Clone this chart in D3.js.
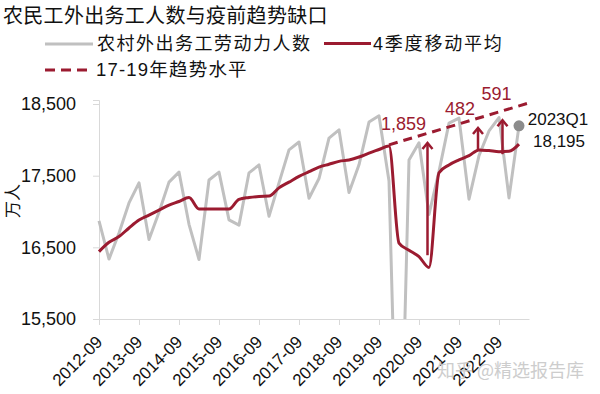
<!DOCTYPE html>
<html>
<head>
<meta charset="utf-8">
<script src="https://cdn.jsdelivr.net/npm/d3@7"></script>
<style>
  body { margin: 0; background: #fff; }
  svg { display: block; font-family: "Liberation Sans", "Noto Sans CJK SC", sans-serif; }
</style>
</head>
<body>
<main></main>
<script>
// quarterly data, 2012Q3 .. 2023Q1
const quarters = ["2012Q3","2012Q4","2013Q1","2013Q2","2013Q3","2013Q4","2014Q1","2014Q2","2014Q3","2014Q4",
  "2015Q1","2015Q2","2015Q3","2015Q4","2016Q1","2016Q2","2016Q3","2016Q4","2017Q1","2017Q2","2017Q3","2017Q4",
  "2018Q1","2018Q2","2018Q3","2018Q4","2019Q1","2019Q2","2019Q3","2019Q4","2020Q1","2020Q2","2020Q3","2020Q4",
  "2021Q1","2021Q2","2021Q3","2021Q4","2022Q1","2022Q2","2022Q3","2022Q4","2023Q1"];

// 农村外出务工劳动力人数 (万人)
const workers = [16870,16336,16700,17120,17400,16610,16990,17410,17550,16821,
  16330,17440,17550,16884,16810,17540,17650,16934,17400,17860,17970,17185,
  17460,18025,18140,17266,17651,18248,18336,17425,12251,17720,17960,16959,
  17560,18233,18303,17172,17780,18124,18311,17190,18195];

// 4季度移动平均
const movingAvg = [16440,16570,16650,16770,16880,16950,17020,17090,17140,17195,
  17035,17035,17035,17035,17170,17195,17210,17215,17330,17410,17490,17555,
  17620,17660,17700,17720,17760,17815,17865,17915,16560,16460,16370,16220,
  17540,17650,17720,17780,17860,17850,17835,17840,17940];

// 17-19年趋势水平 (quarter index, value)
const trendIdx = [29, 43];
const trendVal = [17930, 18515];

const xTickLabels = ["2012-09","2013-09","2014-09","2015-09","2016-09","2017-09",
  "2018-09","2019-09","2020-09","2021-09","2022-09"];
const yTicks = [15500, 16500, 17500, 18500];

// gaps to trend
const gapLabels = ["1,859", "482", "591"];
const gapIdx = [32.85, 37.9, 40.35];
const gapFrom = [16390, 17858, 17800];
const gapTo = [17970, 18180, 18287];

const lastLabel = ["2023Q1", "18,195"];

const red = "#9b1b30";
const grey = "#c0c0c0";
const axisColor = "#d9d9d9";

const width = 600, height = 394;
const svg = d3.select("main").append("svg")
  .attr("width", width)
  .attr("height", height);

const x = d3.scaleLinear().domain([0, 43]).range([99, 529]);
const y = d3.scaleLinear().domain([15500, 18556]).range([319, 100]);

svg.append("defs").append("clipPath").attr("id", "plot")
  .append("rect").attr("x", 95).attr("y", 60).attr("width", 440).attr("height", 259);

// title
svg.append("text")
  .attr("x", 3).attr("y", 23)
  .style("font-family", "'Noto Sans CJK SC', sans-serif")
  .style("font-size", "20px")
  .style("letter-spacing", "0.3px")
  .attr("fill", "#111")
  .text("农民工外出务工人数与疫前趋势缺口");

// legend
const legend = svg.append("g");
legend.append("line").attr("x1", 45).attr("x2", 93).attr("y1", 44).attr("y2", 44)
  .attr("stroke", grey).attr("stroke-width", 3);
legend.append("text").attr("x", 97).attr("y", 44).attr("dy", "0.35em")
  .style("font-size", "18px").style("letter-spacing", "1.5px").attr("fill", "#111")
  .text("农村外出务工劳动力人数");
legend.append("line").attr("x1", 324).attr("x2", 371).attr("y1", 43.5).attr("y2", 43.5)
  .attr("stroke", red).attr("stroke-width", 3);
legend.append("text").attr("x", 373).attr("y", 44).attr("dy", "0.35em")
  .style("font-size", "18px").style("letter-spacing", "1.8px").attr("fill", "#111")
  .text("4季度移动平均");
legend.append("line").attr("x1", 45).attr("x2", 93).attr("y1", 70).attr("y2", 70)
  .attr("stroke", red).attr("stroke-width", 3).attr("stroke-dasharray", "10,6");
legend.append("text").attr("x", 96).attr("y", 70).attr("dy", "0.35em")
  .style("font-size", "18.5px").style("letter-spacing", "1.2px").attr("fill", "#111")
  .text("17-19年趋势水平");

// axes
const yAxis = d3.axisLeft(y).tickValues(yTicks).tickFormat(d3.format(",")).tickSize(6).tickPadding(17);
svg.append("g")
  .attr("transform", "translate(99,0)")
  .call(yAxis)
  .call(g => g.selectAll("path, line").attr("stroke", axisColor))
  .call(g => g.selectAll("text").style("font-size", "18px").attr("fill", "#111"));

const xAxis = d3.axisBottom(x)
  .tickValues(xTickLabels.map((d, i) => i * 4))
  .tickFormat((d, i) => xTickLabels[i])
  .tickSize(6)
  .tickSizeOuter(0);
svg.append("g")
  .attr("transform", "translate(0,319)")
  .call(xAxis)
  .call(g => g.selectAll("path, line").attr("stroke", axisColor))
  .call(g => g.selectAll("text")
    .attr("x", 0).attr("y", 0).attr("dy", 0)
    .attr("text-anchor", "end")
    .attr("transform", "translate(4,24) rotate(-45)")
    .style("font-size", "17px").attr("fill", "#111"));

// y axis title
svg.append("text")
  .attr("transform", "translate(13,201) rotate(-90)")
  .attr("text-anchor", "middle").attr("dy", "0.35em")
  .style("font-size", "17px").attr("fill", "#111")
  .text("万人");

// lines
const plot = svg.append("g").attr("clip-path", "url(#plot)");

plot.append("path")
  .datum(workers)
  .attr("fill", "none")
  .attr("stroke", grey)
  .attr("stroke-width", 3)
  .attr("stroke-linejoin", "round")
  .attr("d", d3.line().x((d, i) => x(i)).y(d => y(d)));

plot.append("path")
  .datum(trendIdx.map((d, i) => [d, trendVal[i]]))
  .attr("fill", "none")
  .attr("stroke", red)
  .attr("stroke-width", 3)
  .attr("stroke-dasharray", "9,6")
  .attr("d", d3.line().x(d => x(d[0])).y(d => y(d[1])));

plot.append("path")
  .datum(movingAvg)
  .attr("fill", "none")
  .attr("stroke", red)
  .attr("stroke-width", 3)
  .attr("stroke-linejoin", "round")
  .attr("d", d3.line().curve(d3.curveMonotoneX).x((d, i) => x(i)).y(d => y(d)));

// gap arrows
const labelDx = [-24, -18, -6];
const labelDy = [-12, -12, -19];
gapLabels.forEach((lab, i) => {
  const ax = x(gapIdx[i]), y0 = y(gapFrom[i]), y1 = y(gapTo[i]);
  svg.append("line")
    .attr("x1", ax).attr("x2", ax).attr("y1", y0).attr("y2", y1 + 1)
    .attr("stroke", red).attr("stroke-width", 2.5);
  svg.append("path")
    .attr("d", `M${ax - 5},${y1 + 7}L${ax},${y1 + 1}L${ax + 5},${y1 + 7}`)
    .attr("fill", "none").attr("stroke", red).attr("stroke-width", 2.5);
  svg.append("text")
    .attr("x", ax + labelDx[i]).attr("y", y1 + labelDy[i])
    .attr("text-anchor", "middle")
    .style("font-size", "18px").attr("fill", red)
    .text(lab);
});

// last point
const lastI = workers.length - 1;
svg.append("circle")
  .attr("cx", x(lastI)).attr("cy", y(workers[lastI]))
  .attr("r", 5.5).attr("fill", "#8c8c8c");
svg.append("text")
  .attr("x", x(lastI) + 39).attr("y", y(workers[lastI]) - 1)
  .attr("text-anchor", "middle")
  .style("font-size", "17px").attr("fill", "#111")
  .text(lastLabel[0]);
svg.append("text")
  .attr("x", x(lastI) + 40).attr("y", y(workers[lastI]) + 21)
  .attr("text-anchor", "middle")
  .style("font-size", "17px").attr("fill", "#111")
  .text(lastLabel[1]);

// watermark
svg.append("text")
  .attr("x", 437).attr("y", 377)
  .style("font-family", "'Noto Sans CJK SC', sans-serif")
  .style("font-size", "18px")
  .attr("fill", "#c8c8c8").attr("opacity", 0.9)
  .text("知乎 @精选报告库");
</script>
</body>
</html>
